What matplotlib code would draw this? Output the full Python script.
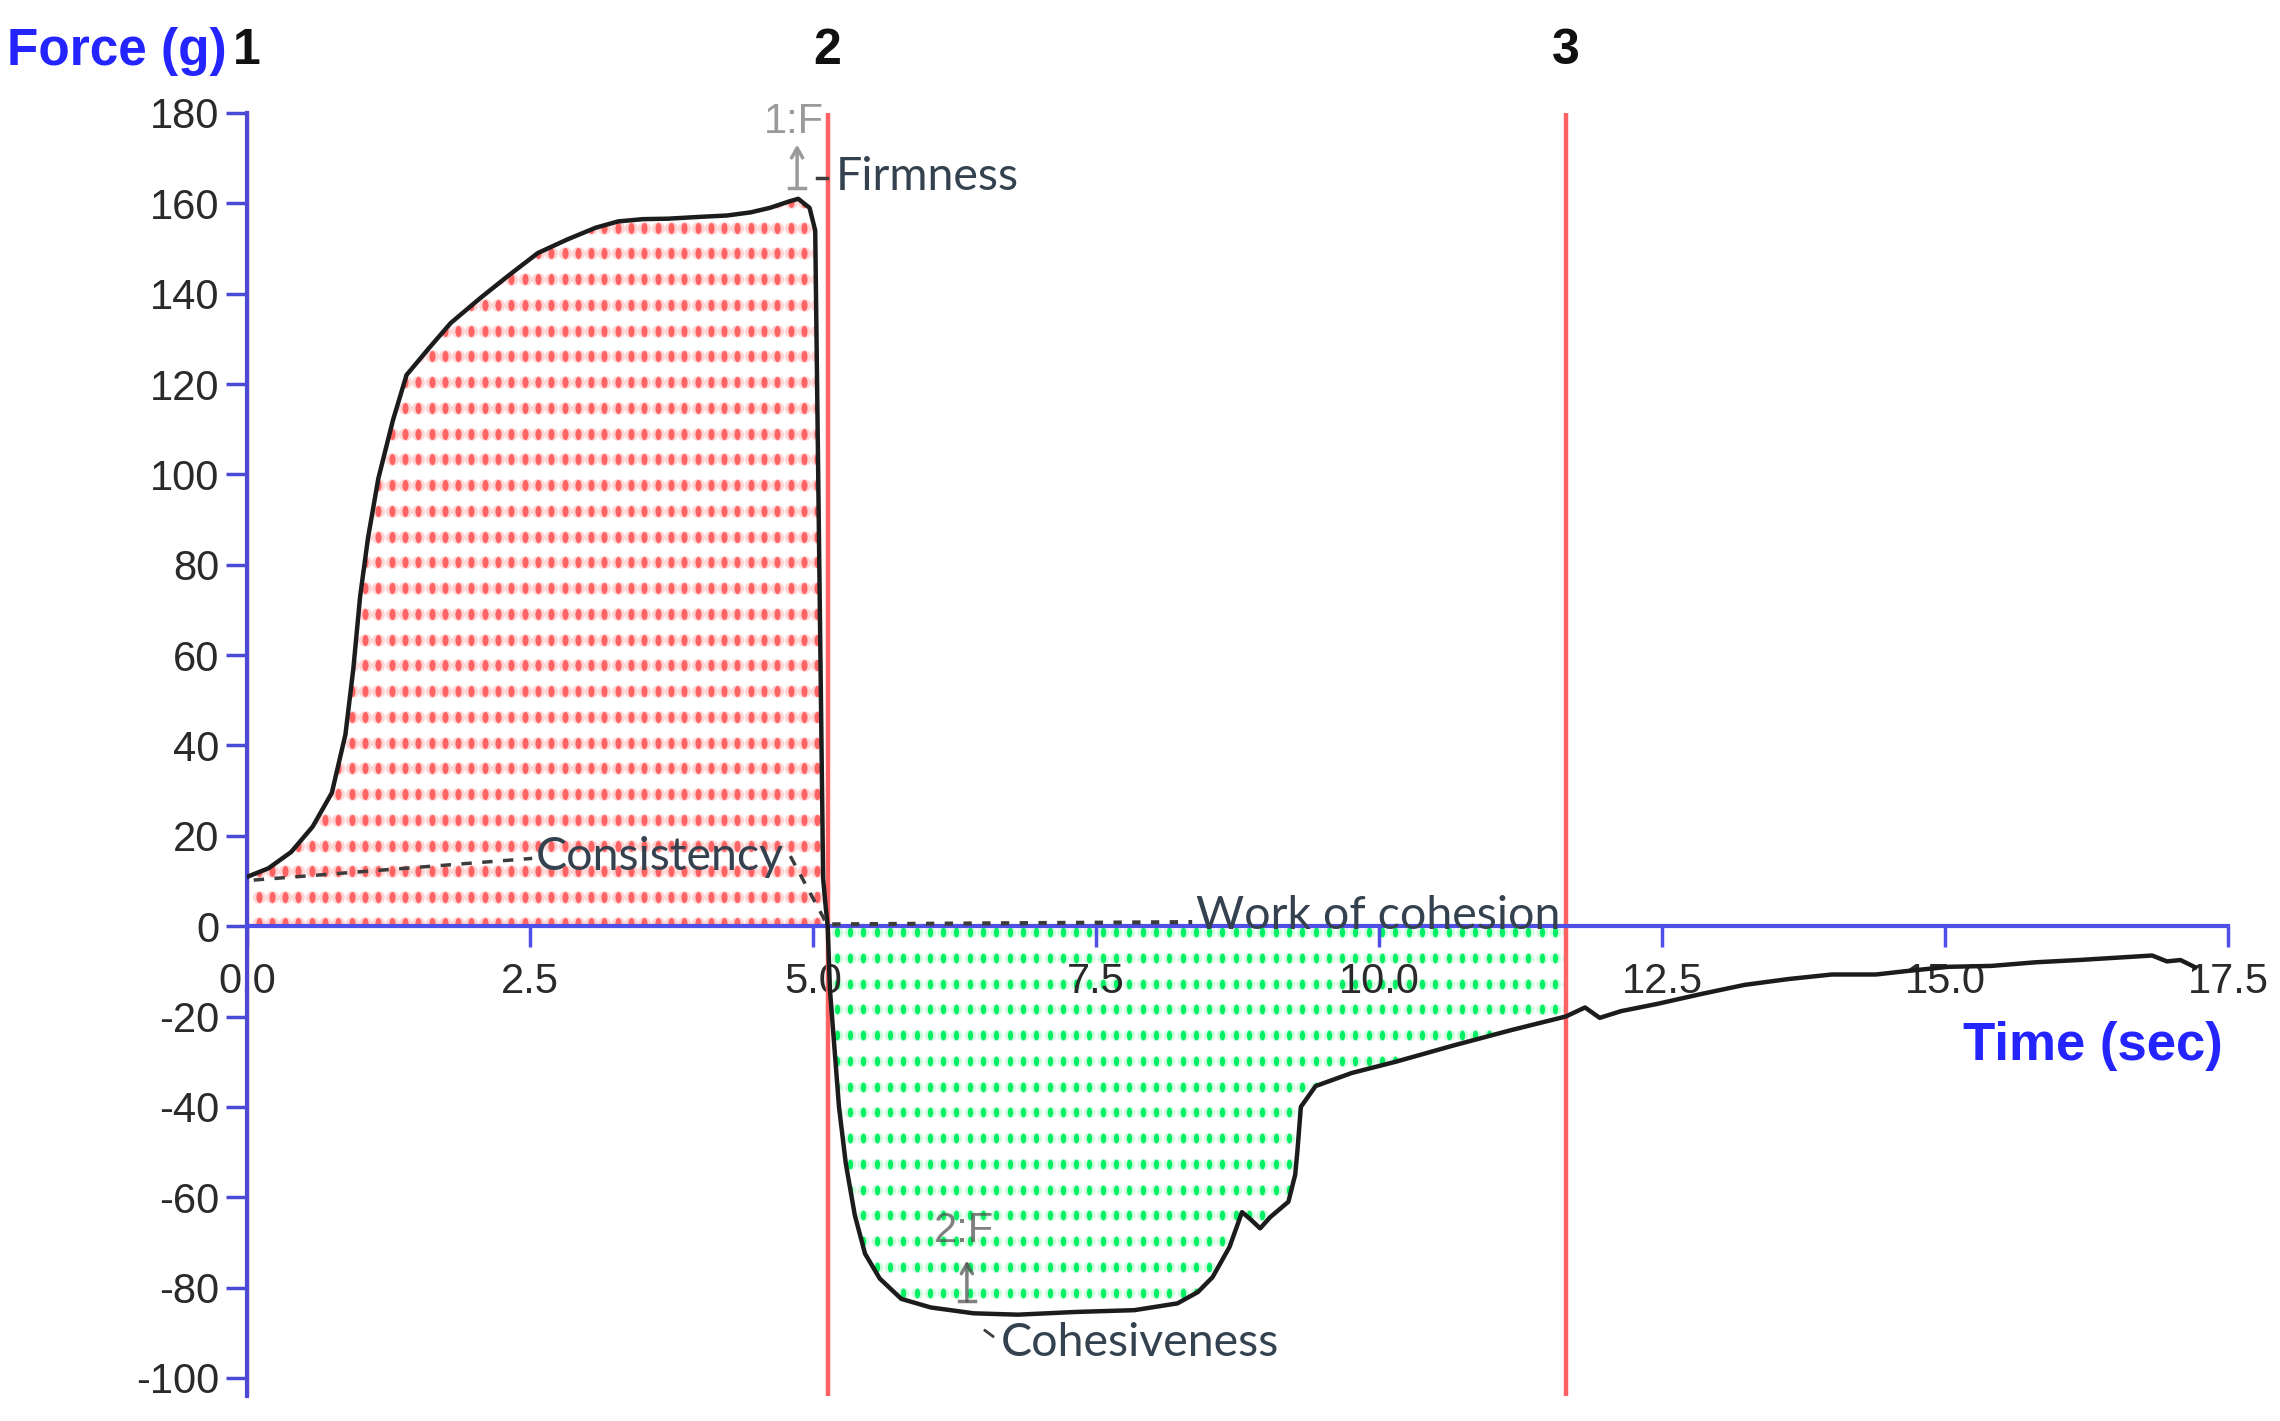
import numpy as np
import matplotlib
matplotlib.use("Agg")
import matplotlib.pyplot as plt
from matplotlib.path import Path
from matplotlib.transforms import Affine2D

# force curve
time_s = [0.0, 0.19, 0.39, 0.58, 0.75, 0.87, 0.94, 1.0, 1.07, 1.16, 1.29, 1.41,
          1.61, 1.8, 2.06, 2.31, 2.57, 2.83, 3.08, 3.28, 3.5, 3.72, 4.0, 4.24,
          4.45, 4.62, 4.8, 4.87, 4.97, 5.02, 5.09, 5.11, 5.13, 5.15, 5.19, 5.23,
          5.29, 5.37, 5.46, 5.59, 5.78, 6.04, 6.42, 6.81, 7.32, 7.84, 8.22, 8.40,
          8.53, 8.68, 8.79, 8.87, 8.95, 9.04, 9.2, 9.26, 9.28, 9.31, 9.44, 9.76,
          10.15, 10.66, 11.17, 11.65, 11.82, 11.95, 12.14, 12.46, 12.85, 13.23,
          13.62, 14.0, 14.39, 14.64, 15.03, 15.41, 15.8, 16.18, 16.57, 16.83,
          16.96, 17.08, 17.21]
force_g = [10.9, 12.8, 16.4, 22, 29.5, 42.4, 57, 73, 86, 99, 112, 122,
           128, 133.5, 139, 144, 149, 152, 154.6, 156, 156.5, 156.6, 157, 157.3,
           158, 159, 160.5, 161, 159, 154, 10.5, 5, 0, -14, -27, -40,
           -52.5, -64, -72.5, -78, -82.5, -84.4, -85.7, -86, -85.4, -85, -83.5, -81,
           -77.7, -71, -63.3, -65, -66.9, -64.4, -61, -55, -49.6, -40, -35.4, -32.5,
           -30, -26.4, -23, -20, -18, -20.3, -18.8, -17.2, -15, -13,
           -11.7, -10.7, -10.7, -10, -9, -8.8, -8, -7.5, -6.9, -6.5,
           -7.8, -7.5, -9.1]

# anchor markers (vertical red lines)
marker_x = [0.0, 5.13, 11.65]
marker_labels = ["1", "2", "3"]

x_ticks = [0.0, 2.5, 5.0, 7.5, 10.0, 12.5, 15.0, 17.5]
y_ticks = [-100, -80, -60, -40, -20, 0, 20, 40, 60, 80, 100, 120, 140, 160, 180]

t = np.array(time_s)
f = np.array(force_g)
assert len(t) == len(f)

BLUE = "#4f4fe8"
RED_LINE = "#ff6262"

fig = plt.figure(figsize=(22.8, 14.21), dpi=100)
ax = fig.add_axes([0.1083, 0.0176, 0.8689, 0.9029])
ax.set_xlim(0, 17.5)
ax.set_ylim(-104, 180)

# dotted fill texture: vertical ellipse dots (with a soft halo) clipped to the area
dot = Path.unit_circle().transformed(Affine2D().scale(0.55, 1.0))
halo = Path.unit_circle().transformed(Affine2D().scale(1.0, 0.95))

def dotted_fill(mask, cols, rows, color, halo_color, ms, alpha):
    poly = ax.fill_between(t[mask], f[mask], 0, facecolor="none", edgecolor="none")
    clip = poly.get_paths()[0]
    xx, yy = np.meshgrid(cols, rows)
    soft, = ax.plot(xx.ravel(), yy.ravel(), ls="none", marker=halo, ms=ms * 1.2,
                    mfc=halo_color, mec="none", zorder=1)
    pts, = ax.plot(xx.ravel(), yy.ravel(), ls="none", marker=dot, ms=ms,
                   mfc=color, mec="none", alpha=alpha, zorder=1.1)
    soft.set_clip_path(clip, ax.transData)
    pts.set_clip_path(clip, ax.transData)

red_mask = t <= 5.09
green_mask = (t >= 5.13) & (t <= 11.65)
dotted_fill(red_mask, np.arange(0.103, 5.1, 0.1175), np.arange(0.7, 175, 5.7),
            "#ff4f4f", "#ffd6d6", 8.0, 0.85)
dotted_fill(green_mask, np.arange(5.21, 11.7, 0.1175), np.arange(-1.3, -95, -5.7),
            "#00f064", "#d2fbe0", 7.0, 1.0)

for xm, lab in zip(marker_x, marker_labels):
    ax.axvline(xm, color=RED_LINE, lw=3.2, zorder=2)
    ax.text(xm, 1.048, lab, transform=ax.get_xaxis_transform(), ha="center",
            va="center", fontsize=36, fontweight="bold", color="#111111",
            family="Liberation Sans", clip_on=False)

ax.plot(t, f, color="#1c1c1c", lw=3.2, zorder=4, solid_joinstyle="round")

# axes styling
for s in ["top", "right"]:
    ax.spines[s].set_visible(False)
ax.spines["left"].set_color("#4a4ad6")
ax.spines["left"].set_linewidth(3)
ax.spines["left"].set_bounds(-104, 180)
ax.spines["left"].set_zorder(3)
ax.spines["bottom"].set_position(("data", 0))
ax.spines["bottom"].set_color(BLUE)
ax.spines["bottom"].set_linewidth(3)
ax.spines["bottom"].set_zorder(3)

ax.set_xticks(x_ticks)
ax.set_xticklabels([f"{v:.1f}" for v in x_ticks])
ax.set_yticks(y_ticks)
ax.set_yticklabels([str(v) for v in y_ticks])
ax.tick_params(axis="y", direction="out", length=15, width=2.5, color="#4a4ad6",
               pad=5, labelsize=30, labelcolor="#2a2a2a")
ax.tick_params(axis="x", direction="out", length=15, width=2.5, color=BLUE,
               pad=11, labelsize=30, labelcolor="#2a2a2a")
for lbl in ax.get_xticklabels() + ax.get_yticklabels():
    lbl.set_family("Liberation Sans")

fig.text(0.003, 0.964, "Force (g)", ha="left", va="center", fontsize=37,
         fontweight="bold", color="#2424ff", family="Liberation Sans")
ax.text(17.45, -26.5, "Time (sec)", ha="right", va="center", fontsize=38,
        fontweight="bold", color="#2424ff", family="Liberation Sans")

# annotation leaders and labels
ANN = "#34424f"
LEAD = "#3c3c3c"
ann_font = dict(family="Lato", fontsize=33.5, color=ANN, zorder=6)

ax.plot([0.06, 2.52], [10.2, 15.0], ls=(0, (3, 3)), color=LEAD, lw=2.5, zorder=5)
ax.text(2.55, 15.2, "Consistency", ha="left", va="center", **ann_font)
ax.plot([4.80, 5.12], [15.5, 0.6], ls=(0, (3, 3)), color=LEAD, lw=2.5, zorder=5)

ax.plot([5.17, 8.35], [0.4, 0.9], ls=(0, (2, 2.5)), color=LEAD, lw=3, zorder=5)
ax.text(8.38, 2.2, "Work of cohesion", ha="left", va="center", **ann_font)

ax.plot([5.04, 5.12], [165.5, 165.5], color=LEAD, lw=2.5, zorder=5)
ax.text(5.2, 165.8, "Firmness", ha="left", va="center", **ann_font)

ax.plot([6.52, 6.59], [-89.5, -90.8], color=LEAD, lw=2, zorder=5)
ax.text(6.66, -92.3, "Cohesiveness", ha="left", va="center", **ann_font)

# peak markers: label, up arrow with a flat foot
def peak_marker(x, y_label, y_tip, y_foot, text, color, alpha):
    ax.text(x - 0.03, y_label, text, ha="center", va="center", fontsize=30,
            color=color, alpha=alpha, family="Liberation Sans", zorder=6,
            clip_on=False)
    ax.annotate("", xy=(x, y_tip), xytext=(x, y_foot),
                arrowprops=dict(arrowstyle="->, head_length=0.7, head_width=0.4",
                                color=color, lw=2.5, alpha=alpha,
                                shrinkA=0, shrinkB=0), zorder=6)
    ax.plot([x - 0.07, x + 0.07], [y_foot, y_foot], color=color, lw=2.5,
            alpha=alpha, zorder=6)

peak_marker(4.86, 178.0, 173.0, 163.5, "1:F", "#9a9a9a", 1.0)
peak_marker(6.36, -67.5, -74.0, -83.0, "2:F", "#555555", 0.75)

fig.savefig("out.png", dpi=100)
